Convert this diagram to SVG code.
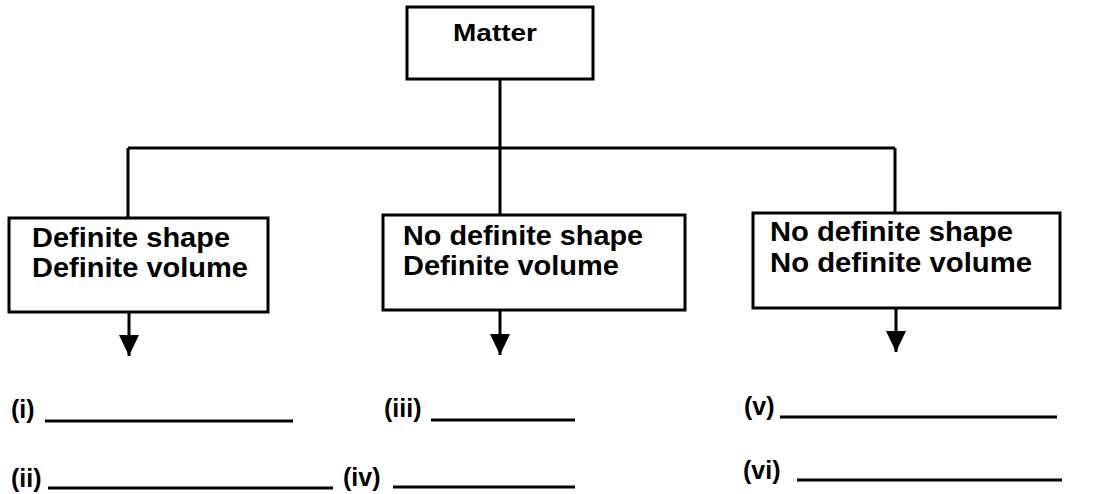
<svg xmlns="http://www.w3.org/2000/svg" width="1105" height="494" viewBox="0 0 1105 494">
<style>
.box{fill:#fff;stroke:#000;stroke-width:3}
.ln{fill:none;stroke:#000;stroke-width:3}
.bl{fill:none;stroke:#000;stroke-width:3}
.t{font-family:"Liberation Sans",Arial,sans-serif;font-weight:bold;font-size:27px;fill:#000}
.lab{font-family:"Liberation Sans",Arial,sans-serif;font-weight:bold;font-size:25px;fill:#000}
</style>
<defs>
<marker id="ah" viewBox="0 0 21 20" refX="21" refY="10" markerWidth="21" markerHeight="20" orient="auto" markerUnits="userSpaceOnUse">
<path d="M0,0 L21,10 L0,20 Z" fill="#000"/>
</marker>
</defs>
<rect width="1105" height="494" fill="#fff"/>
<g id="connectors">
<path class="ln" d="M500,79 V148 M128,148 H895 M128,148 V218 M500,148 V215 M895,148 V213"/>
<path class="ln" d="M129,312 V356" marker-end="url(#ah)"/>
<path class="ln" d="M500,310 V355" marker-end="url(#ah)"/>
<path class="ln" d="M896,308 V352" marker-end="url(#ah)"/>
</g>
<g id="matter">
<rect class="box" x="407" y="7" width="186" height="72"/>
<text class="t" x="453" y="41" style="font-size:24px" textLength="84" lengthAdjust="spacingAndGlyphs">Matter</text>
</g>
<g id="solid">
<rect class="box" x="9" y="218" width="259" height="94"/>
<text class="t" x="32" y="247" textLength="198" lengthAdjust="spacingAndGlyphs">Definite shape</text>
<text class="t" x="32" y="277" textLength="216" lengthAdjust="spacingAndGlyphs">Definite volume</text>
</g>
<g id="liquid">
<rect class="box" x="383" y="215" width="302" height="95"/>
<text class="t" x="403" y="245" textLength="240" lengthAdjust="spacingAndGlyphs">No definite shape</text>
<text class="t" x="403" y="275" textLength="216" lengthAdjust="spacingAndGlyphs">Definite volume</text>
</g>
<g id="gas">
<rect class="box" x="753" y="213" width="307" height="95"/>
<text class="t" x="770" y="241" textLength="243" lengthAdjust="spacingAndGlyphs">No definite shape</text>
<text class="t" x="770" y="272" textLength="262" lengthAdjust="spacingAndGlyphs">No definite volume</text>
</g>
<g id="answers">
<text class="lab" x="11" y="418">(i)</text>
<path class="bl" d="M45,421 H293"/>
<text class="lab" x="384" y="417">(iii)</text>
<path class="bl" d="M431,420 H575"/>
<text class="lab" x="744" y="415">(v)</text>
<path class="bl" d="M780,417 H1057"/>
<text class="lab" x="11" y="487">(ii)</text>
<path class="bl" d="M48,488 H333"/>
<text class="lab" x="343" y="486">(iv)</text>
<path class="bl" d="M393,487 H575"/>
<text class="lab" x="743" y="479">(vi)</text>
<path class="bl" d="M797,480 H1062"/>
</g>
</svg>
